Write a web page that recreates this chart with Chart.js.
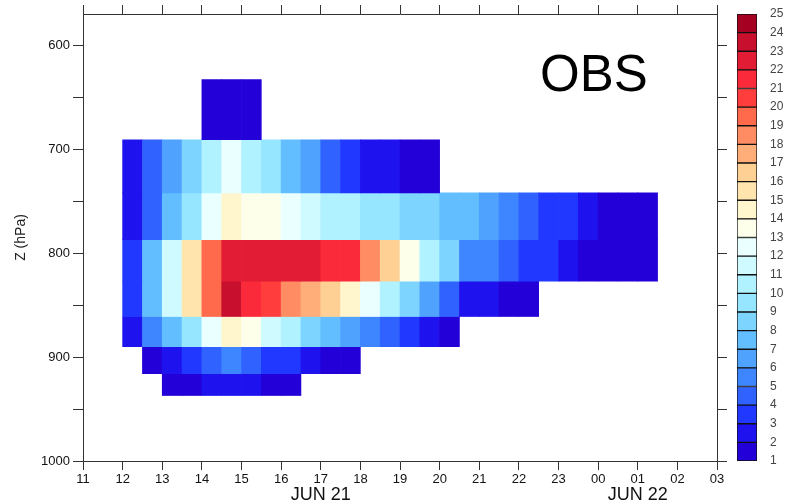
<!DOCTYPE html>
<html lang="en">
<head>
<meta charset="UTF-8">
<title>OBS</title>
<script src="https://cdn.jsdelivr.net/npm/chart.js"></script>
<style>
  html, body { margin: 0; padding: 0; background: #fff; }
  #wrap { position: relative; width: 786px; height: 504px; }
  #main { position: absolute; left: 0; top: 0; }
  #bar { position: absolute; left: 737px; top: 0; }
</style>
</head>
<body>
<div id="wrap">
  <canvas id="main" width="786" height="504"></canvas>
  <canvas id="bar" width="49" height="504"></canvas>
</div>
<script>
  // time axis in hours from 00Z Jun 21
  const hourTicks = [11, 12, 13, 14, 15, 16, 17, 18, 19, 20, 21, 22, 23, 24, 25, 26, 27];
  const hourLabels = ['11', '12', '13', '14', '15', '16', '17', '18', '19', '20', '21', '22', '23', '00', '01', '02', '03'];
  const dateLabels = ['JUN 21', 'JUN 22'];
  const dateHours = [17, 25];

  const pTicks = [600, 650, 700, 750, 800, 850, 900, 950, 1000];
  const pLabels = ['600', '', '700', '', '800', '', '900', '', '1000'];

  // cells are half an hour wide, first column starts at 12
  const colStart = 12;
  const colStep = 0.5;
  // level boundaries (hPa), top to bottom
  const levelEdges = [633, 691, 742, 787, 827, 861, 890, 916, 937];

  const row1 = [null, null, null, null, 1, 1, 1];
  const row2 = [2, 4, 6, 8, 10, 12, 10, 9, 7, 6, 4, 3, 2, 2, 1, 1];
  const row3 = [2, 4, 7, 9, 12, 14, 13, 13, 12, 11, 10, 10, 9, 9, 8, 8, 7, 7, 6, 5, 4, 3, 3, 2, 1, 1, 1];
  const row4 = [3, 7, 11, 15, 19, 22, 22, 22, 22, 22, 21, 21, 18, 16, 13, 10, 8, 5, 5, 4, 3, 3, 2, 1, 1, 1, 1];
  const row5 = [3, 7, 11, 15, 19, 23, 21, 20, 18, 17, 16, 14, 12, 10, 8, 6, 4, 2, 2, 1, 1];
  const row6 = [2, 5, 7, 9, 12, 14, 13, 11, 10, 8, 7, 6, 5, 4, 3, 2, 1];
  const row7 = [null, 1, 2, 3, 4, 5, 4, 3, 3, 2, 1, 1];
  const row8 = [null, null, 1, 1, 2, 2, 2, 1, 1];
  const rows = [row1, row2, row3, row4, row5, row6, row7, row8];

  const shadeLevels = [1, 2, 3, 4, 5, 6, 7, 8, 9, 10, 11, 12, 13, 14, 15, 16, 17, 18, 19, 20, 21, 22, 23, 24, 25];
  const shadeColors = [
    '#2400D8', '#1E12EE', '#2038FF', '#2F62FF', '#3D86FF', '#50A2FF', '#62BEFF', '#7DD5FF',
    '#97E6FF', '#B0F2FF', '#CFFAFF', '#EAFFFF', '#FDFFEA', '#FFF6CE', '#FFE4AE', '#FFD094',
    '#FFAE7A', '#FF8C62', '#FF6A4D', '#FF3D3D', '#FA2A3A', '#E21C34', '#C8102E', '#A50021'
  ];

  function shade(v) {
    let i = 0;
    while (i < shadeColors.length - 1 && v >= shadeLevels[i + 1]) i++;
    return shadeColors[i];
  }

  Chart.defaults.font.family = '"Liberation Sans", Arial, sans-serif';
  Chart.defaults.color = '#222';

  const datasets = rows.map((vals, r) => ({
    data: vals.map((v, i) => v == null ? null : {
      x: colStart + colStep * (i + 0.5),
      y: [levelEdges[r], levelEdges[r + 1]],
      v: v
    }).filter(d => d),
    backgroundColor: ctx => shade(ctx.raw.v),
    borderWidth: 0,
    grouped: false,
    barPercentage: 1,
    categoryPercentage: 1
  }));

  const tickGrid = { drawOnChartArea: false, tickLength: 9, color: '#333' };

  const textPlugin = {
    id: 'texts',
    afterDraw(chart) {
      const ctx = chart.ctx;
      const xs = chart.scales.x;
      ctx.save();
      ctx.fillStyle = '#111';
      ctx.textAlign = 'center';
      ctx.textBaseline = 'alphabetic';
      ctx.font = '18px "Liberation Sans Narrow", sans-serif';
      dateLabels.forEach((t, i) => ctx.fillText(t, xs.getPixelForValue(dateHours[i]), 500));
      ctx.textAlign = 'left';
      ctx.fillStyle = '#000';
      ctx.font = '51px "Liberation Sans", Arial, sans-serif';
      ctx.fillText('OBS', 540, 91);
      ctx.restore();
    }
  };

  new Chart(document.getElementById('main'), {
    type: 'bar',
    data: { datasets },
    plugins: [textPlugin],
    options: {
      responsive: false,
      animation: false,
      layout: { padding: 0 },
      plugins: { legend: { display: false }, tooltip: { enabled: false } },
      scales: {
        x: {
          type: 'linear', min: 11, max: 27, offset: false,
          afterBuildTicks: s => { s.ticks = hourTicks.map(v => ({ value: v })); },
          afterFit: s => { s.height = 43; },
          ticks: {
            autoSkip: false, maxRotation: 0, padding: 2, color: '#111',
            font: { family: '"Liberation Sans Narrow", sans-serif', size: 13 },
            callback: (v, i) => hourLabels[i]
          },
          grid: { ...tickGrid, offset: false },
          border: { color: '#333' }
        },
        x2: {
          type: 'linear', position: 'top', min: 11, max: 27, offset: false,
          afterBuildTicks: s => { s.ticks = hourTicks.map(v => ({ value: v })); },
          afterFit: s => { s.height = 14; },
          ticks: { display: false },
          grid: { ...tickGrid, offset: false },
          border: { color: '#333' }
        },
        y: {
          type: 'linear', reverse: true, min: 570, max: 1000,
          afterBuildTicks: s => { s.ticks = pTicks.map(v => ({ value: v })); },
          afterFit: s => { s.width = 83; },
          ticks: { padding: 3, color: '#111', font: { size: 13 }, callback: (v, i) => pLabels[i] },
          grid: { ...tickGrid, tickLength: 10 },
          border: { color: '#333' },
          title: { display: true, text: 'Z (hPa)', font: { size: 14 }, color: '#222', padding: { top: 13 } }
        },
        y2: {
          type: 'linear', position: 'right', reverse: true, min: 570, max: 1000,
          afterBuildTicks: s => { s.ticks = pTicks.map(v => ({ value: v })); },
          afterFit: s => { s.width = 69; },
          ticks: { display: false },
          grid: { ...tickGrid, tickLength: 10 },
          border: { color: '#333' }
        }
      }
    }
  });

  // colour bar
  new Chart(document.getElementById('bar'), {
    type: 'bar',
    data: {
      labels: [''],
      datasets: shadeColors.map((c, i) => ({
        data: [[shadeLevels[i], shadeLevels[i + 1]]],
        backgroundColor: c,
        borderColor: '#111',
        borderWidth: 1,
        borderSkipped: false,
        grouped: false,
        barPercentage: 1,
        categoryPercentage: 1
      }))
    },
    options: {
      responsive: false,
      animation: false,
      layout: { padding: { top: 14, bottom: 43, left: 0, right: 0 } },
      plugins: { legend: { display: false }, tooltip: { enabled: false } },
      scales: {
        x: { display: false },
        y: {
          position: 'right', min: 1, max: 25,
          afterBuildTicks: s => { s.ticks = shadeLevels.map(v => ({ value: v })); },
          afterFit: s => { s.width = 29; },
          grid: { display: false },
          border: { display: false },
          ticks: { padding: 5, color: '#444', font: { size: 12 } }
        }
      }
    }
  });
</script>
</body>
</html>
